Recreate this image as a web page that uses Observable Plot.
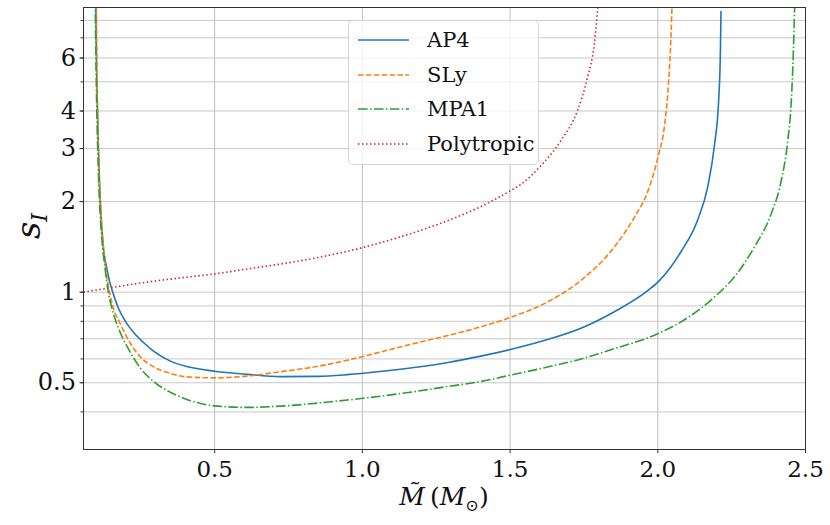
<!DOCTYPE html>
<html>
<head>
<meta charset="utf-8">
<script src="https://cdn.jsdelivr.net/npm/d3@7"></script>
<script src="https://cdn.jsdelivr.net/npm/@observablehq/plot@0.6"></script>
<style>
  html, body { margin: 0; padding: 0; background: #fff; }
  #wrap { position: relative; width: 830px; height: 525px; font-family: "DejaVu Serif", "Liberation Serif", serif; color: #111; }
  #legend { position: absolute; left: 348px; top: 20px; width: 191px; height: 145px; box-sizing: border-box;
    border: 1px solid #d4d4d4; border-radius: 5px; background: rgba(255,255,255,0.8); }
  .row { position: absolute; left: 0; height: 30px; display: flex; align-items: center; }
  .row span { font-size: 21px; margin-left: 18px; }
  #xlabel { position: absolute; left: 444px; top: 498px; transform: translate(-50%, -50%); font-size: 25px; white-space: nowrap; }
  #ylabel { position: absolute; left: 30px; top: 226px; transform: translate(-50%, -50%) rotate(-90deg); font-size: 34px; white-space: nowrap; }
  sub { font-size: 65%; }
</style>
</head>
<body>
<div id="wrap"></div>
<script>
// Series names and styles
const series = ["AP4", "SLy", "MPA1", "Polytropic"];
const colors = ["#1f77b4", "#ff7f0e", "#2ca02c", "#d62728"];
const dashes = ["none", "5.5,2.4", "9.6,2.4,1.5,2.4", "1.5,2.5"];

// Axis ticks
const xTicks = [0.5, 1.0, 1.5, 2.0, 2.5];
const xGrid = [0.5, 1.0, 1.5, 2.0];
const yLabelTicks = [0.5, 1, 2, 3, 4, 6];
const yGridTicks = [0.4, 0.5, 0.6, 0.7, 0.8, 0.9, 1, 2, 3, 4, 5, 6, 7, 8];

// AP4
const ap4M = [0.0975, 0.099, 0.1005, 0.1035, 0.1065, 0.111, 0.116, 0.123, 0.135, 0.145, 0.155, 0.175, 0.2, 0.225, 0.26, 0.293, 0.35, 0.406, 0.5, 0.61, 0.723, 0.85, 0.949, 1.06, 1.175, 1.29, 1.401, 1.501, 1.627, 1.74, 1.853, 1.966, 2.002, 2.079, 2.135, 2.169, 2.192, 2.206, 2.212, 2.214];
const ap4S = [9.5, 7.0, 5.5, 4.0, 3.0, 2.2, 1.75, 1.42, 1.2, 1.08, 1.0, 0.881, 0.794, 0.736, 0.679, 0.637, 0.590, 0.566, 0.546, 0.533, 0.524, 0.525, 0.532, 0.545, 0.562, 0.584, 0.613, 0.645, 0.696, 0.759, 0.861, 1.012, 1.084, 1.365, 1.738, 2.239, 3.09, 4.33, 6.34, 8.6];

// SLy
const slyM = [0.0995, 0.101, 0.1035, 0.1065, 0.1085, 0.113, 0.12, 0.131, 0.144, 0.155, 0.18, 0.215, 0.248, 0.293, 0.35, 0.406, 0.5, 0.61, 0.723, 0.85, 0.949, 1.06, 1.175, 1.29, 1.401, 1.501, 1.627, 1.74, 1.853, 1.921, 1.966, 2.002, 2.022, 2.036, 2.045, 2.049];
const slyS = [9.5, 6.0, 4.0, 3.0, 2.5, 2.0, 1.55, 1.2, 1.0, 0.9, 0.787, 0.675, 0.61, 0.565, 0.537, 0.523, 0.519, 0.526, 0.544, 0.567, 0.594, 0.632, 0.675, 0.718, 0.767, 0.824, 0.928, 1.095, 1.413, 1.776, 2.16, 2.85, 3.53, 4.92, 7.21, 9.5];

// MPA1
const mpaM = [0.0955, 0.098, 0.101, 0.104, 0.1065, 0.1095, 0.114, 0.12, 0.129, 0.14, 0.15, 0.165, 0.18, 0.215, 0.248, 0.293, 0.35, 0.406, 0.5, 0.61, 0.723, 0.85, 0.949, 1.06, 1.175, 1.29, 1.401, 1.501, 1.627, 1.74, 1.853, 2.002, 2.079, 2.192, 2.259, 2.327, 2.384, 2.418, 2.44, 2.452, 2.459, 2.464];
const mpaS = [9.5, 6.0, 4.0, 3.0, 2.5, 2.05, 1.7, 1.43, 1.2, 1.0, 0.9, 0.803, 0.736, 0.63, 0.56, 0.505, 0.465, 0.44, 0.419, 0.414, 0.418, 0.428, 0.438, 0.451, 0.467, 0.486, 0.505, 0.53, 0.564, 0.600, 0.649, 0.729, 0.797, 0.964, 1.123, 1.413, 1.823, 2.35, 3.19, 4.33, 6.34, 9.5];

// Polytropic
const polyM = [0.056, 0.15, 0.271, 0.4, 0.5, 0.6, 0.723, 0.85, 0.927, 1.0, 1.096, 1.208, 1.322, 1.435, 1.5, 1.536, 1.604, 1.672, 1.728, 1.762, 1.785, 1.797, 1.8];
const polyS = [1.0, 1.035, 1.08, 1.12, 1.15, 1.19, 1.24, 1.303, 1.352, 1.406, 1.493, 1.618, 1.78, 2.0, 2.17, 2.28, 2.63, 3.19, 4.01, 5.17, 6.68, 8.83, 9.5];

const xs = [ap4M, slyM, mpaM, polyM];
const ys = [ap4S, slyS, mpaS, polyS];
const tables = series.map((name, i) => xs[i].map((m, j) => ({name, m, s: ys[i][j]})));

const lineMarks = tables.map((t, i) => Plot.line(t, {
  x: "m", y: "s", stroke: colors[i], strokeWidth: 1.6,
  strokeDasharray: dashes[i], strokeLinecap: "butt", strokeLinejoin: "round",
  curve: "monotone-x", clip: true
}));

const chart = Plot.plot({
  width: 830, height: 525,
  marginLeft: 83, marginRight: 25, marginTop: 7, marginBottom: 76,
  style: {fontFamily: "'DejaVu Serif', 'Liberation Serif', serif", background: "transparent", color: "#111"},
  x: {domain: [0.056, 2.5]},
  y: {type: "log", domain: [0.3, 8.83]},
  marks: [
    Plot.gridX(xGrid, {stroke: "#b8b8b8", strokeOpacity: 1, strokeWidth: 0.9}),
    Plot.gridY(yGridTicks, {stroke: "#c8c8c8", strokeOpacity: 1, strokeWidth: 1}),
    ...lineMarks,
    Plot.axisX(xTicks, {tickFormat: d => d.toFixed(1), tickSize: 4, tickPadding: 7, fontSize: 23, label: null, stroke: "#333"}),
    Plot.axisY(yGridTicks, {tickFormat: () => "", tickSize: 2.5, label: null, stroke: "#333"}),
    Plot.axisY(yLabelTicks, {tickFormat: d => String(d), tickSize: 3.5, tickPadding: 4, fontSize: 24, label: null, stroke: "#333"}),
    Plot.frame({stroke: "#333", strokeWidth: 1})
  ]
});

const wrap = document.getElementById("wrap");
wrap.appendChild(chart);

// Axis labels
const xl = document.createElement("div");
xl.id = "xlabel";
xl.innerHTML = "<i>M&#771;</i>&#8201;(<i>M</i><sub>&#8857;</sub>)";
wrap.appendChild(xl);
const yl = document.createElement("div");
yl.id = "ylabel";
yl.innerHTML = "<i>s<sub>I</sub></i>";
wrap.appendChild(yl);

// Legend
const lg = document.createElement("div");
lg.id = "legend";
series.forEach((name, i) => {
  const row = document.createElement("div");
  row.className = "row";
  row.style.top = (4 + i * 34.7) + "px";
  row.style.left = "9px";
  const svgNS = "http://www.w3.org/2000/svg";
  const svg = document.createElementNS(svgNS, "svg");
  svg.setAttribute("width", "51"); svg.setAttribute("height", "6");
  const ln = document.createElementNS(svgNS, "line");
  ln.setAttribute("x1", "0"); ln.setAttribute("x2", "51");
  ln.setAttribute("y1", "3"); ln.setAttribute("y2", "3");
  ln.setAttribute("stroke", colors[i]); ln.setAttribute("stroke-width", "1.6");
  if (dashes[i] !== "none") ln.setAttribute("stroke-dasharray", dashes[i]);
  svg.appendChild(ln);
  row.appendChild(svg);
  const sp = document.createElement("span");
  sp.textContent = name;
  row.appendChild(sp);
  lg.appendChild(row);
});
wrap.appendChild(lg);
</script>
</body>
</html>
